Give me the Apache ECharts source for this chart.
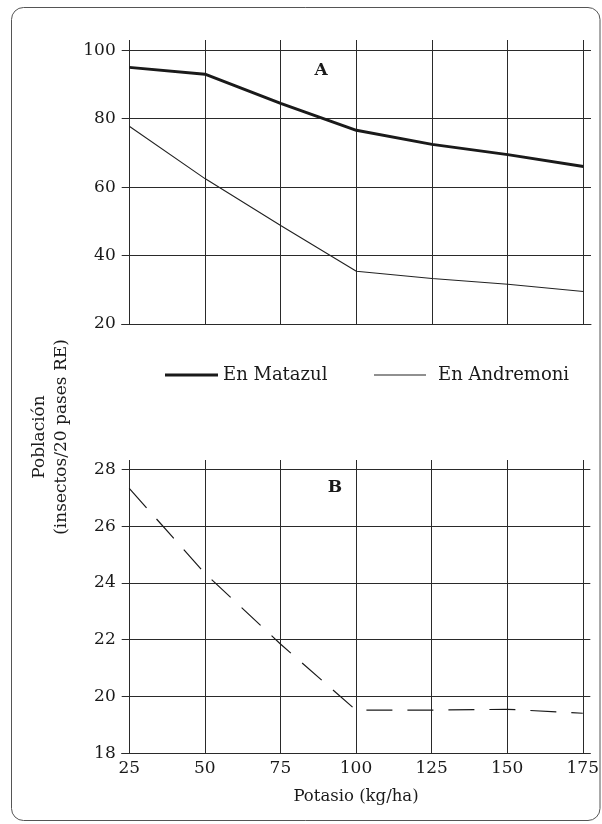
<!DOCTYPE html>
<html>
<head>
<meta charset="utf-8">
<style>
  html, body { margin: 0; padding: 0; background: #fff; }
  #chart { width: 602px; height: 824px; }
</style>
<script src="https://cdn.jsdelivr.net/npm/echarts@6/dist/echarts.min.js"></script>
</head>
<body>
<div id="chart"></div>
<script>
// ---- Data ----
const potasio = [25, 50, 75, 100, 125, 150, 175];
const matazul = [95, 93, 84.5, 76.6, 72.5, 69.5, 66];
const andremoni = [77.8, 62.5, 48.8, 35.4, 33.3, 31.6, 29.5];
const serieB = [27.33, 24.34, 21.85, 19.52, 19.52, 19.55, 19.41];
const yTicksA = [20, 40, 60, 80, 100];
const yTicksB = [18, 20, 22, 24, 26, 28];
const xTicks = [25, 50, 75, 100, 125, 150, 175];
const seriesNames = ['En Matazul', 'En Andremoni'];

const pairs = (xs, ys) => xs.map((x, i) => [x, ys[i]]);

const FONT = 'DejaVu Serif';
const INK = '#1a1a1a';
const GRID = '#2a2a2a';

const chart = echarts.init(document.getElementById('chart'), null, { renderer: 'canvas' });

function xAxis(gridIndex, showLabels) {
  return {
    type: 'value', gridIndex, min: 22.5, max: 177.5,
    axisLine: { show: true, onZero: false, lineStyle: { color: GRID, width: 1 } },
    axisTick: { show: false, customValues: xTicks },
    axisLabel: { show: showLabels, customValues: xTicks, color: INK, fontFamily: FONT, fontSize: 17, margin: 7 },
    splitLine: { show: true, lineStyle: { color: GRID, width: 1 } }
  };
}
function yAxis(gridIndex, min, max, ticks) {
  return {
    type: 'value', gridIndex, min, max,
    axisLine: { show: false },
    axisTick: { show: false, customValues: ticks },
    axisLabel: { customValues: ticks, color: INK, fontFamily: FONT, fontSize: 17, margin: 6 },
    splitLine: { show: true, lineStyle: { color: GRID, width: 1 } }
  };
}

const legendText = { color: INK, fontFamily: FONT, fontSize: 18 };

chart.setOption({
  animation: false,
  backgroundColor: '#fff',
  grid: [
    { left: 121.7, right: 11, top: 40, height: 284 },
    { left: 121.7, right: 11, top: 460, height: 293.3 }
  ],
  xAxis: [
    xAxis(0, false),
    Object.assign(xAxis(1, true), {
      name: 'Potasio (kg/ha)', nameLocation: 'middle', nameGap: 35,
      nameTextStyle: { color: INK, fontFamily: FONT, fontSize: 16.5 }
    })
  ],
  yAxis: [
    yAxis(0, 20, 103, yTicksA),
    yAxis(1, 18, 28.33, yTicksB)
  ],
  legend: [
    {
      data: [seriesNames[0]], left: 160, top: 374 - 13, itemWidth: 53, itemHeight: 3,
      icon: 'rect', itemGap: 0, textStyle: Object.assign({ padding: [0, 0, 0, 0] }, legendText)
    },
    {
      data: [seriesNames[1]], left: 369, top: 374 - 13, itemWidth: 52, itemHeight: 1.2,
      icon: 'rect', itemGap: 0, textStyle: Object.assign({ padding: [0, 0, 0, 7] }, legendText)
    }
  ],
  series: [
    {
      name: seriesNames[0], type: 'line', xAxisIndex: 0, yAxisIndex: 0,
      data: pairs(potasio, matazul), symbol: 'none',
      lineStyle: { color: '#1a1a1a', width: 3 }, itemStyle: { color: '#1a1a1a' }
    },
    {
      name: seriesNames[1], type: 'line', xAxisIndex: 0, yAxisIndex: 0,
      data: pairs(potasio, andremoni), symbol: 'none',
      lineStyle: { color: '#222', width: 1.1 }, itemStyle: { color: '#222' }
    },
    {
      name: 'B', type: 'line', xAxisIndex: 1, yAxisIndex: 1,
      data: pairs(potasio, serieB), symbol: 'none',
      lineStyle: { color: '#1a1a1a', width: 1.2, type: [26, 15] }
    }
  ],
  graphic: [
    {
      type: 'rect', silent: true,
      shape: { x: 11.5, y: 7.5, width: 588.5, height: 813, r: 12 },
      style: { fill: 'none', stroke: '#555', lineWidth: 1 }
    },
    {
      type: 'text', x: 321, y: 71,
      style: { text: 'A', font: 'bold 17px "DejaVu Serif"', fill: INK, align: 'center', verticalAlign: 'middle' }
    },
    {
      type: 'text', x: 335, y: 488,
      style: { text: 'B', font: 'bold 17px "DejaVu Serif"', fill: INK, align: 'center', verticalAlign: 'middle' }
    },
    {
      type: 'text', x: 51, y: 437, rotation: Math.PI / 2,
      style: {
        text: 'Población\n(insectos/20 pases RE)', font: '17px "DejaVu Serif"', fill: INK,
        align: 'center', verticalAlign: 'middle', lineHeight: 22
      }
    }
  ]
});
</script>
</body>
</html>
